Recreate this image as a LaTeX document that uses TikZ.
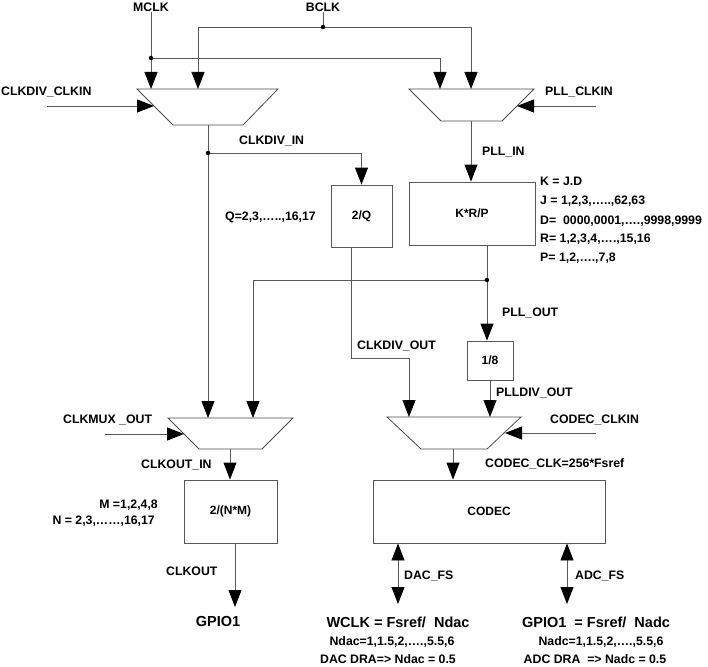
\documentclass[tikz,border=0pt]{standalone}
\usepackage{fontspec}
\setmainfont{Liberation Sans}
\usetikzlibrary{arrows.meta}
\begin{document}
\begin{tikzpicture}[x=1pt,y=-1pt,
  wire/.style={draw=black!65, line width=0.9pt},
  arr/.style={wire, -{Triangle[length=17pt,width=13pt,color=black]}},
  darr/.style={wire, {Triangle[length=17pt,width=13pt,color=black]}-{Triangle[length=17pt,width=13pt,color=black]}},
  muxshape/.style={draw=black!70, line width=0.8pt, fill=white},
  blk/.style={draw=black!65, line width=0.9pt, fill=white, inner sep=0pt, font=\fontsize{12}{14}\selectfont\bfseries},
  lbl/.style={inner sep=0pt, font=\fontsize{12.3}{14}\selectfont\bfseries},
  big/.style={inner sep=0pt, font=\fontsize{14.5}{17}\selectfont\bfseries},
  dot/.style={circle, fill=black, inner sep=0pt, minimum size=4.5pt}
]
\useasboundingbox (0,0) rectangle (708,666);

% ---- muxes
\draw[muxshape] (137,89) -- (278,89) -- (243,125) -- (173,125) -- cycle;
\draw[muxshape] (409,89) -- (534,89) -- (502,121) -- (441,121) -- cycle;
\draw[muxshape] (168,418) -- (293,418) -- (262,449) -- (199,449) -- cycle;
\draw[muxshape] (387,417) -- (521,417) -- (487,449) -- (421,449) -- cycle;
\coordinate (m1a) at (151,89);
\coordinate (m1b) at (198,89);
\coordinate (m1c) at (154,106);
\coordinate (m1out) at (208,125);
\coordinate (m2a) at (440,89);
\coordinate (m2b) at (471,89);
\coordinate (m2c) at (517,106);
\coordinate (m2out) at (471,121);
\coordinate (m3a) at (208,418);
\coordinate (m3b) at (253,418);
\coordinate (m3c) at (184,434);
\coordinate (m3out) at (230,449);
\coordinate (m4a) at (409,417);
\coordinate (m4b) at (490,417);
\coordinate (m4c) at (505,433);
\coordinate (m4out) at (453,449);

% ---- blocks
\node[blk, minimum width=61pt, minimum height=62pt] (q) at (361.5,216) {2/Q};
\node[blk, minimum width=126pt, minimum height=63pt] (krp) at (472,213.5) {K*R/P};
\node[blk, minimum width=46pt, minimum height=39pt] (div8) at (490,360.5) {1/8};
\node[blk, minimum width=232pt, minimum height=63pt] (codec) at (489,511.5) {CODEC};
\node[blk, minimum width=93pt, minimum height=63pt] (nm) at (230.5,511.5) {2/(N*M)};

% ---- top labels
\node[lbl] (mclk) at (151,7) {MCLK};
\node[lbl] (bclk) at (323,7) {BCLK};
\node[lbl, anchor=mid west] (cdclkin) at (1,93) {CLKDIV\_CLKIN};
\node[lbl, anchor=mid west] (pllclkin) at (545,93) {PLL\_CLKIN};
\coordinate (cdclkinS) at (47,106);
\coordinate (pllclkinS) at (596,106);

% ---- clock inputs
\coordinate (jb) at (323,27);
\coordinate (jm) at (151,58);
\draw[wire] (bclk.south) -- (jb);
\draw[arr] (jb) -| (m1b);
\draw[arr] (jb) -| (m2b);
\draw[arr] (mclk.south) -- (m1a);
\draw[arr] (jm) -| (m2a);
\node[dot] at (jb) {};
\node[dot] at (jm) {};
\draw[arr] (cdclkinS) -- (m1c);
\draw[arr] (pllclkinS) -- (m2c);

% ---- mux1 output
\coordinate (jd) at (208,153);
\draw[arr] (m1out) -- (m3a);
\draw[arr] (jd) -| (q.north);
\node[dot] at (jd) {};
\node[lbl, anchor=mid west] at (239,142) {CLKDIV\_IN};
\node[lbl, anchor=mid east] at (316,218) {Q=2,3,…..,16,17};

% ---- PLL
\draw[arr] (m2out) -- (m2out |- krp.north);
\node[lbl, anchor=mid west] at (482,153) {PLL\_IN};
\node[lbl, anchor=mid west] at (540,183) {K = J.D};
\node[lbl, anchor=mid west] at (540,202) {J = 1,2,3,…..,62,63};
\node[lbl, anchor=mid west] at (540,222) {D=\ \ 0000,0001,….,9998,9999};
\node[lbl, anchor=mid west] at (540,240) {R= 1,2,3,4,….,15,16};
\node[lbl, anchor=mid west] at (540,259) {P= 1,2,….,7,8};

\coordinate (jp) at (487,280);
\draw[wire] (krp.south -| jp) -- (jp);
\draw[arr] (jp) -| (m3b);
\draw[arr] (jp) -- (jp |- div8.north);
\node[dot] at (jp) {};
\node[lbl, anchor=mid west] at (502,314) {PLL\_OUT};

% ---- 2/Q output
\coordinate (qo) at (351,247);
\coordinate (qbend) at (351,358);
\draw[arr] (q.south -| qo) -- (qbend) -| (m4a);
\node[lbl, anchor=mid west] at (357,347) {CLKDIV\_OUT};

% ---- 1/8 output
\draw[arr] (div8.south) -- (m4b);
\node[lbl, anchor=mid west] at (496,394) {PLLDIV\_OUT};

% ---- codec mux
\coordinate (codecclkinS) at (596,433);
\draw[arr] (codecclkinS) -- (m4c);
\node[lbl, anchor=mid west] at (550,421) {CODEC\_CLKIN};
\draw[arr] (m4out) -- (m4out |- codec.north);
\node[lbl, anchor=mid west] at (485,465) {CODEC\_CLK=256*Fsref};

% ---- clkout mux
\coordinate (clkmuxS) at (105,434);
\draw[arr] (clkmuxS) -- (m3c);
\node[lbl, anchor=mid west] at (63,421) {CLKMUX \_OUT};
\draw[arr] (m3out) -- (m3out |- nm.north);
\node[lbl, anchor=mid west] at (141,466) {CLKOUT\_IN};
\node[lbl, anchor=mid east] at (158,506) {M =1,2,4,8};
\node[lbl, anchor=mid east] at (155,522) {N = 2,3,……,16,17};

% ---- CLKOUT
\node[big] (gpio) at (218,621) {GPIO1};
\coordinate (co) at (235,545);
\coordinate (coend) at (235,607);
\draw[arr] (nm.south -| co) -- (coend);
\node[lbl, anchor=mid west] at (166,573) {CLKOUT};

% ---- codec outputs
\coordinate (dacs) at (398,604);
\coordinate (adcs) at (567,604);
\draw[darr] (codec.south -| dacs) -- (dacs);
\draw[darr] (codec.south -| adcs) -- (adcs);
\node[lbl, anchor=mid west] at (404,577) {DAC\_FS};
\node[lbl, anchor=mid west] at (575,577) {ADC\_FS};

\node[big] (wclk) at (398,622) {WCLK\ = Fsref/\ \ Ndac};
\node[lbl] at (392,642) {Ndac=1,1.5,2,….,5.5,6};
\node[lbl] at (388,659) {DAC DRA=> Ndac = 0.5};
\node[big] (gpio2) at (596,622) {GPIO1\ \ = Fsref/\ \ Nadc};
\node[lbl] at (601,642) {Nadc=1,1.5,2,….,5.5,6};
\node[lbl] at (595,659) {ADC DRA\ \ => Nadc = 0.5};
\end{tikzpicture}
\end{document}
